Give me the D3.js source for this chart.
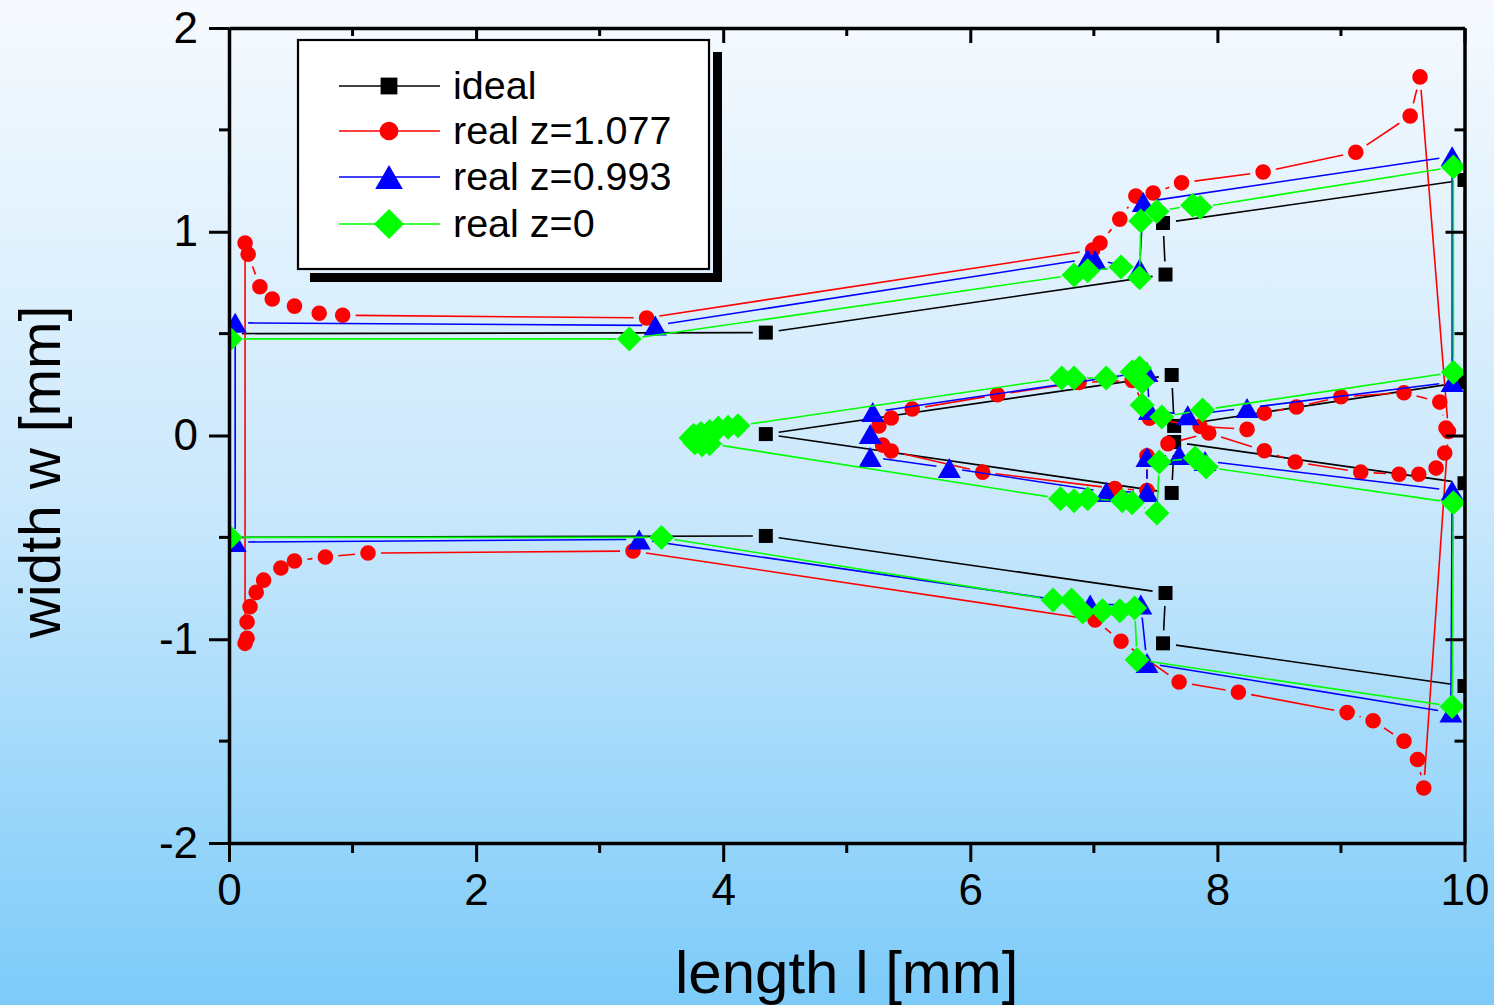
<!DOCTYPE html>
<html>
<head>
<meta charset="utf-8">
<script src="https://cdn.jsdelivr.net/npm/d3@7"></script>
<style>
  body { margin: 0; }
  svg { display: block; }
  text { font-family: "Liberation Sans", Arial, sans-serif; fill: #000; }
</style>
</head>
<body>
<div id="chart"></div>
<script>
var width = 1494, height = 1005;
var margin = {left: 229, right: 29, top: 28, bottom: 162};

// axis ticks
var xTicks = [0, 2, 4, 6, 8, 10];
var xMinor = [1, 3, 5, 7, 9];
var yTicks = [-2, -1, 0, 1, 2];
var yMinor = [-1.5, -0.5, 0.5, 1.5];

var seriesNames = ["ideal", "real z=1.077", "real z=0.993", "real z=0"];

// ideal contour (closed)
var idealShape = [
  [0, 0.5], [4.345, 0.505], [7.58, 0.79], [7.56, 1.043], [10, 1.254],
  [10, 0.263], [7.65, 0.047], [7.63, 0.297], [4.345, 0.007],
  [7.63, -0.282], [7.65, -0.032], [10, -0.234], [10, -1.23],
  [7.56, -1.02], [7.58, -0.773], [4.345, -0.493], [0, -0.5]
];

// real z=1.077, outer boundary (open) and inner boundary (closed)
var realZ1077Outer = [
  [0.155, 0.89], [0.25, 0.73], [0.35, 0.67], [0.53, 0.635], [0.73, 0.60],
  [0.92, 0.59], [3.38, 0.577], [6.99, 0.91], [7.05, 0.945], [7.21, 1.062],
  [7.34, 1.175], [7.48, 1.19], [7.71, 1.24], [8.37, 1.293], [9.12, 1.39],
  [9.56, 1.568], [9.64, 1.76], [9.87, 0.02], [9.67, -1.73], [9.62, -1.59],
  [9.51, -1.50], [9.26, -1.40], [9.05, -1.36], [8.17, -1.26], [7.69, -1.21],
  [7.22, -1.01], [7.01, -0.905], [3.27, -0.567], [1.125, -0.577],
  [0.78, -0.596], [0.53, -0.616], [0.42, -0.65], [0.28, -0.71],
  [0.22, -0.77], [0.17, -0.84], [0.146, -0.915], [0.146, -0.995],
  [0.13, -1.02], [0.13, 0.945]
];
var realZ1077Inner = [
  [5.26, 0.047], [5.36, 0.086], [5.53, 0.13], [6.22, 0.2], [6.88, 0.26],
  [7.31, 0.27], [7.45, 0.085], [7.86, 0.045], [8.24, 0.03], [8.38, 0.11],
  [8.64, 0.14], [9.0, 0.19], [9.51, 0.21], [9.80, 0.164], [9.85, 0.037],
  [9.84, -0.086], [9.77, -0.16], [9.63, -0.19], [9.47, -0.19], [9.16, -0.18],
  [8.63, -0.13], [8.38, -0.075], [7.93, 0.012], [7.6, -0.04], [7.43, -0.1],
  [7.43, -0.27], [7.17, -0.26], [6.1, -0.18], [5.36, -0.076], [5.29, -0.047]
];

// real z=0.993 contour (closed)
var realZ0993Shape = [
  [0.05, 0.553], [3.45, 0.54], [6.95, 0.866], [7.01, 0.862], [7.37, 0.82],
  [7.40, 1.146], [9.9, 1.37], [9.9, 0.262], [8.24, 0.135], [7.76, 0.10],
  [7.45, 0.125], [7.43, 0.312], [5.21, 0.115], [5.19, 0.007], [5.19, -0.105],
  [5.83, -0.16], [7.10, -0.277], [7.43, -0.277], [7.43, -0.105],
  [7.69, -0.096], [7.9, -0.125], [9.9, -0.27], [9.89, -1.36], [7.43, -1.117],
  [7.38, -0.83], [6.97, -0.83], [3.32, -0.51], [0.05, -0.523]
];

// real z=0 contour (closed)
var realZ0Shape = [
  [0.01, 0.474], [3.24, 0.474], [6.84, 0.788], [6.95, 0.808], [7.22, 0.827],
  [7.37, 0.774], [7.38, 1.053], [7.51, 1.10], [7.80, 1.13], [7.86, 1.12],
  [9.91, 1.318], [9.91, 0.31], [7.88, 0.125], [7.55, 0.091], [7.39, 0.15],
  [7.39, 0.263], [7.37, 0.331], [7.31, 0.312], [7.10, 0.282], [6.84, 0.282],
  [6.74, 0.282], [4.12, 0.048], [4.04, 0.04], [3.96, 0.035], [3.89, 0.02],
  [3.82, 0.01], [3.76, 0.0], [3.74, -0.012], [3.77, -0.035], [3.83, -0.045],
  [3.89, -0.04], [6.73, -0.31], [6.84, -0.32], [6.95, -0.31], [7.23, -0.32],
  [7.31, -0.33], [7.51, -0.38], [7.53, -0.13], [7.82, -0.11], [7.91, -0.155],
  [9.91, -0.33], [9.90, -1.33], [7.35, -1.10], [7.33, -0.847], [7.21, -0.86],
  [7.07, -0.86], [6.91, -0.866], [6.82, -0.807], [6.67, -0.807], [3.5, -0.5],
  [0.01, -0.5]
];

var series = [
  {name: seriesNames[0], color: "#000000", symbol: "square",
   paths: [{pts: idealShape, closed: true}]},
  {name: seriesNames[1], color: "#ff0000", symbol: "circle",
   paths: [{pts: realZ1077Outer, closed: false}, {pts: realZ1077Inner, closed: true}]},
  {name: seriesNames[2], color: "#0000ff", symbol: "triangle",
   paths: [{pts: realZ0993Shape, closed: true}]},
  {name: seriesNames[3], color: "#00ff00", symbol: "diamond",
   paths: [{pts: realZ0Shape, closed: true}]}
];

var svg = d3.select("#chart")
  .append("svg")
  .attr("width", width)
  .attr("height", height);

var defs = svg.append("defs");
var grad = defs.append("linearGradient")
  .attr("id", "bg")
  .attr("x1", 0).attr("y1", 0).attr("x2", 0).attr("y2", 1);
grad.append("stop").attr("offset", "0%").attr("stop-color", "#f6fafe");
grad.append("stop").attr("offset", "50%").attr("stop-color", "#cae8fc");
grad.append("stop").attr("offset", "100%").attr("stop-color", "#7ccbf9");

svg.append("rect")
  .attr("width", width)
  .attr("height", height)
  .attr("fill", "url(#bg)");

var x = d3.scaleLinear().domain([0, 10]).range([margin.left, width - margin.right - 0.5]);
var y = d3.scaleLinear().domain([-2, 2]).range([height - margin.bottom, margin.top]);

defs.append("clipPath").attr("id", "plotclip")
  .append("rect")
  .attr("x", x(0)).attr("y", y(2))
  .attr("width", x(10) - x(0)).attr("height", y(-2) - y(2));

// symbols, sized in px
function symbolPath(type, k) {
  k = k || 1;
  if (type === "square") {
    var s = 7 * k;
    return "M" + (-s) + "," + (-s) + "H" + s + "V" + s + "H" + (-s) + "Z";
  }
  if (type === "circle") {
    var r = 7.8 * k;
    return "M" + r + ",0A" + r + "," + r + " 0 1,1 " + (-r) + ",0A" + r + "," + r + " 0 1,1 " + r + ",0Z";
  }
  if (type === "triangle") {
    var w = 11.5 * k, h = 10 * k;
    return "M0," + (-h) + "L" + w + "," + h + "L" + (-w) + "," + h + "Z";
  }
  var a = 12.5 * k;
  return "M0," + (-a) + "L" + a + ",0L0," + a + "L" + (-a) + ",0Z";
}

var gap = 13;
function gappedSegments(pts, closed) {
  var px = pts.map(function(p) { return [x(p[0]), y(p[1])]; });
  var segs = [];
  var n = closed ? px.length : px.length - 1;
  for (var i = 0; i < n; i++) {
    var a = px[i], b = px[(i + 1) % px.length];
    var dx = b[0] - a[0], dy = b[1] - a[1];
    var L = Math.sqrt(dx * dx + dy * dy);
    if (L <= 2 * gap) continue;
    var ux = dx / L, uy = dy / L;
    segs.push([a[0] + ux * gap, a[1] + uy * gap, b[0] - ux * gap, b[1] - uy * gap]);
  }
  return segs;
}

var plot = svg.append("g").attr("clip-path", "url(#plotclip)");

series.forEach(function(s) {
  var g = plot.append("g").attr("class", "series");
  s.paths.forEach(function(p) {
    g.selectAll(null)
      .data(gappedSegments(p.pts, p.closed))
      .enter().append("line")
      .attr("x1", function(d) { return d[0]; })
      .attr("y1", function(d) { return d[1]; })
      .attr("x2", function(d) { return d[2]; })
      .attr("y2", function(d) { return d[3]; })
      .attr("stroke", s.color)
      .attr("stroke-width", 1.6);
  });
  s.paths.forEach(function(p) {
    g.selectAll(null)
      .data(p.pts)
      .enter().append("path")
      .attr("d", symbolPath(s.symbol))
      .attr("transform", function(d) { return "translate(" + x(d[0]) + "," + y(d[1]) + ")"; })
      .attr("fill", s.color);
  });
});

// axes
function styleAxis(g) {
  g.select(".domain").attr("stroke", "#000").attr("stroke-width", 3.5);
  g.selectAll(".tick line").attr("stroke", "#000").attr("stroke-width", 3);
  g.selectAll(".tick text")
    .style("font-family", '"Liberation Sans", Arial, sans-serif')
    .attr("font-size", 44);
}

var gx = svg.append("g")
  .attr("transform", "translate(0," + y(-2) + ")")
  .call(d3.axisBottom(x).tickValues(xTicks).tickSize(19).tickSizeOuter(0).tickPadding(12));
styleAxis(gx);
gx.append("g").selectAll("line").data(xMinor).enter().append("line")
  .attr("x1", x).attr("x2", x).attr("y1", 0).attr("y2", 10)
  .attr("stroke", "#000").attr("stroke-width", 3);

var gxTop = svg.append("g")
  .attr("transform", "translate(0," + y(2) + ")")
  .call(d3.axisTop(x).tickValues(xTicks).tickSize(-15).tickSizeOuter(0).tickFormat(""));
styleAxis(gxTop);
gxTop.append("g").selectAll("line").data(xMinor).enter().append("line")
  .attr("x1", x).attr("x2", x).attr("y1", 0).attr("y2", 8)
  .attr("stroke", "#000").attr("stroke-width", 3);

var gy = svg.append("g")
  .attr("transform", "translate(" + x(0) + ",0)")
  .call(d3.axisLeft(y).tickValues(yTicks).tickSize(20).tickSizeOuter(0).tickPadding(11)
    .tickFormat(function(d) { return d < 0 ? "-" + Math.abs(d) : d; }));
styleAxis(gy);
gy.append("g").selectAll("line").data(yMinor).enter().append("line")
  .attr("y1", y).attr("y2", y).attr("x1", 0).attr("x2", -10)
  .attr("stroke", "#000").attr("stroke-width", 3);

var gyRight = svg.append("g")
  .attr("transform", "translate(" + x(10) + ",0)")
  .call(d3.axisRight(y).tickValues(yTicks).tickSize(-19).tickSizeOuter(0).tickFormat(""));
styleAxis(gyRight);
gyRight.append("g").selectAll("line").data(yMinor).enter().append("line")
  .attr("y1", y).attr("y2", y).attr("x1", 0).attr("x2", -10)
  .attr("stroke", "#000").attr("stroke-width", 3);

// axis titles
svg.append("text")
  .attr("x", (x(0) + x(10)) / 2)
  .attr("y", 993)
  .attr("text-anchor", "middle")
  .attr("font-size", 60)
  .text("length l [mm]");

svg.append("text")
  .attr("transform", "translate(60," + 472 + ") rotate(-90)")
  .attr("text-anchor", "middle")
  .attr("font-size", 57)
  .text("width w [mm]");

// legend
var legend = svg.append("g").attr("class", "legend");
legend.append("rect").attr("x", 713).attr("y", 52).attr("width", 9).attr("height", 230).attr("fill", "#000");
legend.append("rect").attr("x", 310).attr("y", 273).attr("width", 412).attr("height", 9).attr("fill", "#000");
legend.append("rect")
  .attr("x", 298).attr("y", 40).attr("width", 411).attr("height", 229)
  .attr("fill", "#fff").attr("stroke", "#000").attr("stroke-width", 2.2);

var rowY = [86, 131, 177, 224];
series.forEach(function(s, i) {
  var row = legend.append("g").attr("transform", "translate(0," + rowY[i] + ")");
  row.append("line").attr("x1", 339).attr("x2", 440).attr("y1", 0).attr("y2", 0)
    .attr("stroke", s.color).attr("stroke-width", 1.6);
  row.append("path").attr("d", symbolPath(s.symbol, 1.2))
    .attr("transform", "translate(389,0)").attr("fill", s.color);
  row.append("text").attr("x", 453).attr("y", 13)
    .attr("font-size", 39.5)
    .text(s.name);
});
</script>
</body>
</html>
